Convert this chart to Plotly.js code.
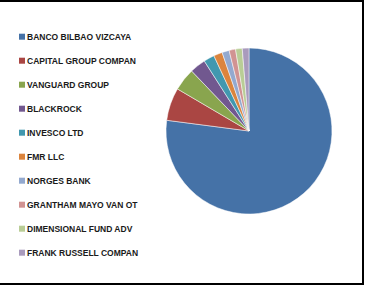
<!DOCTYPE html>
<html>
<head>
<meta charset="utf-8">
<script src="https://cdn.plot.ly/plotly-3.0.1.min.js"></script>
<style>html,body{margin:0;padding:0;background:#fff;}#chart{width:372px;height:289px;}</style>
</head>
<body>
<div id="chart"></div>
<script>
const labels = ["BANCO BILBAO VIZCAYA","CAPITAL GROUP COMPAN","VANGUARD GROUP","BLACKROCK","INVESCO LTD","FMR LLC","NORGES BANK","GRANTHAM MAYO VAN OT","DIMENSIONAL FUND ADV","FRANK RUSSELL COMPAN"];
const values = [77.1, 6.4, 4.4, 3.1, 2.1, 1.7, 1.4, 1.25, 1.3, 1.3];
const colors = ["#4572A7","#AA4643","#89A54E","#71588F","#4198AF","#DB843D","#93A9CF","#D19392","#B9CD96","#A99BBD"];

const W = 372, H = 289;
const cx = 249, cy = 131, r = 83;

const shapes = [
  {type:'line', xref:'paper', yref:'paper', x0:0, x1:364/W, y0:1-1/H, y1:1-1/H, line:{color:'#000', width:2}},
  {type:'line', xref:'paper', yref:'paper', x0:363/W, x1:363/W, y0:1, y1:4/H, line:{color:'#000', width:2}},
  {type:'line', xref:'paper', yref:'paper', x0:0, x1:364/W, y0:5/H, y1:5/H, line:{color:'#000', width:2}}
];
const annotations = [];
labels.forEach((lab, i) => {
  const yc = 36.7 + 24 * i;
  shapes.push({type:'rect', xref:'paper', yref:'paper', x0:19/W, x1:25/W, y0:1-(yc-3)/H, y1:1-(yc+3)/H, fillcolor:colors[i], line:{width:0}});
  annotations.push({xref:'paper', yref:'paper', x:26/W, y:1-yc/H, xanchor:'left', yanchor:'middle', showarrow:false, text:lab, borderpad:0,
    font:{family:'Liberation Sans Narrow, Arial Narrow, sans-serif', size:8.5, weight:'bold', color:'#1a1a1a'}});
});

const data = [{
  type:'pie', labels:labels, values:values, sort:false, direction:'clockwise', rotation:0,
  marker:{colors:colors, line:{color:'#ffffff', width:0.5}},
  textinfo:'none', hoverinfo:'skip',
  domain:{x:[(cx-r)/W,(cx+r)/W], y:[1-(cy+r)/H, 1-(cy-r)/H]}
}];
const layout = {
  width:W, height:H, margin:{l:0,r:0,t:0,b:0},
  paper_bgcolor:'#fff', showlegend:false, shapes:shapes, annotations:annotations
};
Plotly.newPlot('chart', data, layout, {staticPlot:true, displayModeBar:false});
</script>
</body>
</html>
